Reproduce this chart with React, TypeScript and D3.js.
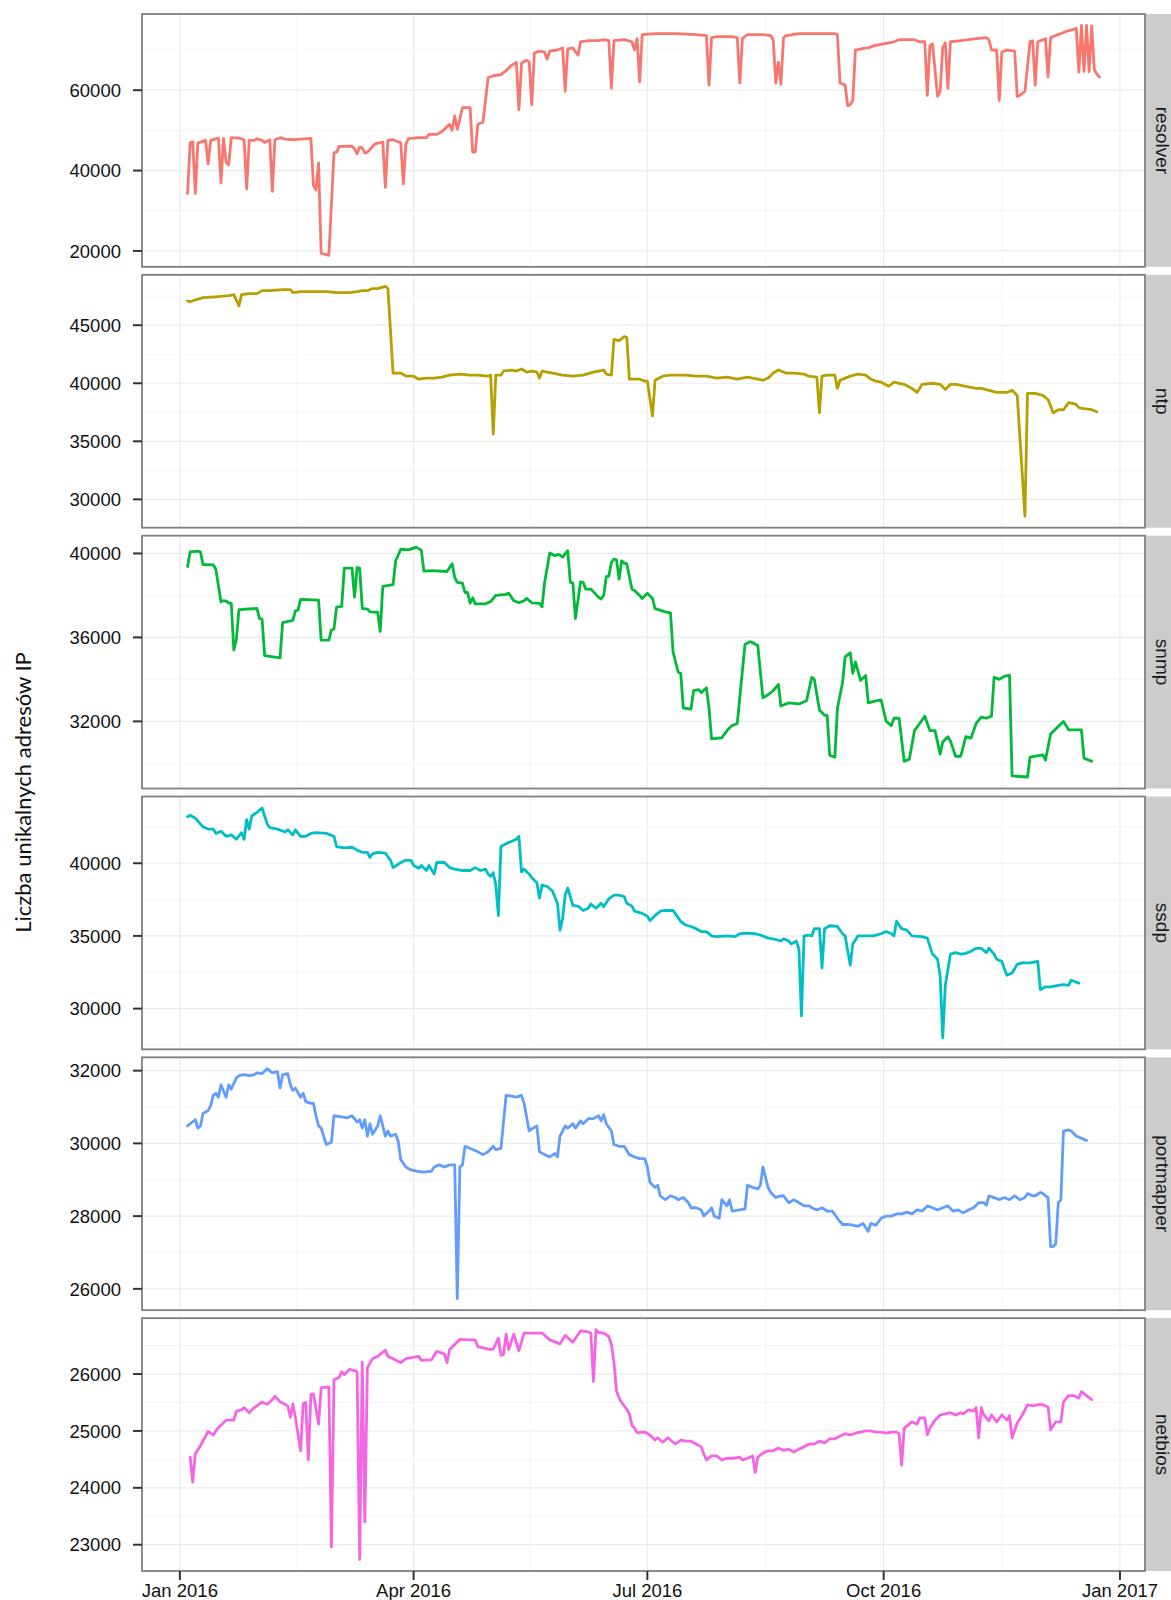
import * as d3 from 'd3';

// days counted from 2016-01-01, value = number of unique IPs
const resolver: [number, number][] = [
  [3, 34330], [4, 46900], [5, 47170], [6, 34330], [7, 46830], [10, 47500], [11, 41670], [12, 47500],
  [15, 48080], [16, 36920], [17, 48000], [18, 42080], [19, 41420], [20, 48170], [23, 48080], [25, 47670],
  [26, 35420], [27, 47500], [29, 47500], [30, 47920], [32, 47500], [33, 47000], [35, 47670], [36, 34830],
  [37, 47670], [39, 48170], [41, 47830], [45, 47670], [47, 47830], [51, 48000], [52, 36250], [53, 35170],
  [54, 41920], [55, 19420], [58, 18900], [60, 44420], [61, 44580], [62, 46000], [67, 46080], [68, 45420],
  [69, 44170], [70, 45830], [71, 45670], [72, 44330], [73, 44580], [76, 46670], [78, 46920], [79, 47080],
  [80, 35830], [81, 47500], [83, 47670], [86, 46920], [87, 36670], [88, 46670], [89, 47950], [93, 48200],
  [96, 48200], [97, 49000], [100, 49000], [102, 49740], [103, 50260], [105, 51540], [106, 50000], [107, 53600],
  [108, 50260], [110, 55640], [113, 55640], [114, 44620], [115, 44620], [116, 51540], [118, 52050], [120, 63080],
  [122, 63590], [125, 63850], [127, 64870], [129, 66150], [131, 66920], [132, 55130], [133, 66670], [134, 67180],
  [135, 67440], [136, 67000], [137, 56410], [138, 69230], [140, 69740], [142, 69490], [143, 67690], [144, 69740],
  [147, 70000], [149, 70510], [150, 59740], [151, 70260], [153, 70510], [155, 68720], [156, 72050], [159, 72310],
  [163, 72310], [165, 72560], [167, 72310], [168, 60510], [169, 72310], [173, 72560], [176, 72050], [177, 70000],
  [178, 72820], [179, 62050], [180, 73850], [185, 74100], [193, 74100], [201, 73850], [205, 73590], [206, 61280],
  [207, 73080], [209, 73330], [215, 73330], [217, 73080], [218, 61800], [219, 72820], [221, 73850], [227, 73850],
  [230, 73590], [231, 72500], [232, 61800], [233, 67000], [234, 61500], [235, 73000], [236, 73590], [241, 74100],
  [249, 74100], [255, 74100], [256, 73850], [257, 61800], [259, 61280], [260, 56150], [261, 56410], [262, 57440],
  [263, 70000], [267, 70510], [268, 70510], [270, 71030], [274, 71540], [278, 72050], [280, 72560], [286, 72560],
  [288, 72050], [290, 72050], [291, 58720], [292, 71030], [293, 71540], [295, 58460], [296, 59740], [297, 70510],
  [298, 71800], [299, 60510], [300, 72050], [304, 72310], [310, 72820], [314, 73080], [315, 72560], [316, 70000],
  [318, 70000], [319, 57440], [320, 69490], [322, 70000], [325, 69740], [326, 58460], [327, 58720], [329, 59740],
  [331, 72050], [332, 72310], [333, 61280], [334, 72050], [336, 72560], [337, 72820], [338, 63330], [339, 73080],
  [342, 73850], [345, 74620], [348, 75130], [349, 75380], [350, 64500], [351, 76100], [352, 64700], [353, 76100],
  [354, 64600], [355, 76000], [356, 65200], [357, 64000], [358, 63300],
];

const ntp: [number, number][] = [
  [3, 47100], [4, 47020], [6, 47190], [9, 47370], [14, 47450], [19, 47540], [21, 47630], [23, 46670],
  [24, 47630], [27, 47720], [30, 47720], [32, 47980], [35, 47980], [40, 48070], [43, 48070], [44, 47800],
  [47, 47890], [51, 47890], [57, 47890], [61, 47800], [66, 47800], [69, 47890], [71, 47980], [73, 47980],
  [75, 48160], [77, 48160], [80, 48350], [81, 48160], [83, 40880], [86, 40880], [88, 40610], [91, 40610],
  [93, 40350], [96, 40440], [99, 40440], [102, 40530], [105, 40700], [109, 40790], [113, 40700], [116, 40700],
  [120, 40610], [121, 40700], [122, 35620], [123, 40700], [125, 40700], [126, 41050], [129, 41140], [131, 41050],
  [133, 41230], [135, 40960], [137, 41050], [139, 40960], [140, 40440], [141, 41050], [145, 40880], [149, 40700],
  [153, 40610], [157, 40700], [161, 40960], [165, 41140], [166, 40790], [168, 40700], [169, 43770], [171, 43680],
  [173, 44030], [174, 43940], [175, 40350], [179, 40350], [181, 40180], [182, 40180], [184, 37190], [185, 40260],
  [188, 40610], [191, 40700], [197, 40700], [201, 40610], [205, 40610], [209, 40440], [213, 40530], [217, 40350],
  [221, 40530], [227, 40260], [229, 40440], [231, 40880], [233, 41140], [236, 40880], [239, 40880], [243, 40790],
  [245, 40610], [248, 40530], [249, 37460], [250, 40610], [252, 40700], [255, 40700], [256, 39560], [257, 40260],
  [261, 40610], [264, 40790], [267, 40700], [269, 40350], [271, 40180], [273, 40090], [276, 39740], [278, 40090],
  [280, 40000], [282, 39910], [285, 39560], [287, 39210], [289, 39910], [293, 40000], [296, 39910], [298, 39470],
  [300, 39910], [302, 39910], [306, 39740], [310, 39560], [312, 39560], [318, 39210], [322, 39210], [324, 39390],
  [326, 38950], [329, 28550], [330, 39120], [333, 39120], [336, 38950], [338, 38600], [340, 37460], [342, 37720],
  [344, 37720], [346, 38330], [348, 38250], [349, 38160], [350, 37900], [352, 37810], [355, 37720], [357, 37540],
];

const snmp: [number, number][] = [
  [3, 39380], [4, 40080], [7, 40110], [8, 40080], [9, 39475], [13, 39460], [14, 39250], [16, 37700],
  [17, 37750], [18, 37730], [19, 37640], [20, 37620], [21, 35410], [22, 35920], [23, 37320], [30, 37380],
  [31, 36900], [32, 36870], [33, 35130], [39, 35030], [40, 36710], [44, 36810], [45, 37270], [46, 37300],
  [47, 37810], [54, 37780], [55, 35870], [58, 35870], [59, 36360], [60, 36400], [61, 37440], [63, 37480],
  [64, 39300], [67, 39300], [68, 37920], [69, 39330], [70, 39300], [71, 37380], [73, 37350], [74, 37220],
  [77, 37200], [78, 36290], [79, 38430], [83, 38510], [84, 39650], [86, 40200], [89, 40170], [92, 40300],
  [94, 40160], [95, 39160], [98, 39180], [104, 39140], [106, 39510], [107, 38860], [108, 38620], [110, 38590],
  [111, 38140], [112, 38140], [113, 37630], [114, 37890], [115, 37600], [119, 37600], [121, 37710], [123, 38000],
  [127, 38050], [128, 38110], [130, 37750], [132, 37650], [134, 37750], [135, 37860], [137, 37650], [140, 37620],
  [141, 37460], [142, 38620], [144, 40020], [146, 39890], [147, 39950], [148, 39930], [149, 39820], [151, 40130],
  [152, 38620], [153, 38600], [154, 36900], [156, 38650], [157, 38620], [158, 38300], [160, 38300], [163, 37920],
  [164, 37830], [165, 38000], [166, 38900], [167, 38920], [168, 39570], [169, 39730], [170, 39700], [171, 38780],
  [172, 39650], [173, 39540], [174, 39500], [176, 38300], [177, 38240], [179, 38000], [180, 37850], [182, 38100],
  [184, 37850], [185, 37370], [189, 37220], [191, 37170], [192, 35320], [194, 34340], [195, 34290], [196, 32630],
  [199, 32590], [200, 33460], [202, 33510], [203, 33370], [205, 33600], [206, 32630], [207, 31170], [211, 31220],
  [213, 31560], [215, 31800], [217, 31900], [220, 35660], [222, 35800], [225, 35610], [227, 33120], [229, 33270],
  [231, 33460], [233, 33760], [234, 32730], [237, 32880], [241, 32830], [244, 32980], [246, 34100], [247, 34000],
  [249, 32540], [251, 32290], [252, 32290], [253, 30390], [255, 30290], [256, 32630], [258, 33850], [259, 35070],
  [261, 35270], [262, 34290], [263, 34830], [265, 33950], [267, 34190], [268, 32880], [271, 32980], [273, 33020],
  [275, 32000], [277, 31800], [278, 32150], [280, 32150], [282, 30100], [284, 30200], [286, 31560], [288, 31900],
  [290, 32240], [292, 31560], [294, 31560], [296, 30440], [297, 31020], [299, 31270], [300, 31070], [302, 30340],
  [304, 30340], [306, 31270], [308, 31200], [310, 31900], [312, 32200], [314, 32150], [316, 32250], [317, 34100],
  [319, 34000], [321, 34150], [323, 34200], [324, 29400], [330, 29350], [331, 30300], [336, 30400], [337, 30150],
  [339, 31400], [344, 32000], [346, 31600], [351, 31600], [352, 30250], [355, 30100],
];

const ssdp: [number, number][] = [
  [3, 43200], [4, 43300], [6, 43100], [8, 42700], [9, 42500], [11, 42350], [13, 42350], [14, 42050],
  [16, 42200], [18, 41850], [20, 41950], [22, 41650], [24, 42100], [25, 41650], [26, 43000], [27, 42350],
  [28, 43250], [30, 43500], [32, 43800], [34, 42700], [35, 42450], [38, 42350], [41, 42150], [42, 42300],
  [44, 41950], [45, 42300], [47, 41850], [49, 41850], [51, 42050], [53, 42100], [57, 42050], [60, 41850],
  [61, 41150], [64, 41050], [67, 41100], [69, 40900], [71, 40750], [73, 40750], [74, 40400], [75, 40650],
  [77, 40750], [80, 40700], [82, 40200], [83, 39700], [86, 40050], [88, 40200], [90, 40200], [91, 39850],
  [93, 39650], [94, 39850], [96, 39500], [97, 39850], [99, 39250], [100, 40050], [103, 40050], [105, 39700],
  [107, 39600], [110, 39500], [113, 39500], [115, 39700], [117, 39500], [119, 39600], [120, 39250], [121, 39100],
  [122, 39350], [123, 38500], [124, 36400], [125, 41150], [127, 41350], [129, 41500], [131, 41650], [132, 41850],
  [133, 39400], [134, 39600], [136, 39250], [137, 39000], [139, 38650], [140, 37600], [141, 38500], [143, 38400],
  [145, 38100], [147, 37250], [148, 35400], [149, 36200], [150, 37800], [151, 38300], [153, 37100], [155, 37050],
  [157, 36750], [159, 36900], [160, 37200], [162, 36900], [164, 37250], [165, 37000], [167, 37550], [169, 37800],
  [171, 37800], [173, 37700], [174, 37250], [176, 37050], [177, 36700], [180, 36550], [182, 36350], [183, 36050],
  [185, 36400], [187, 36700], [189, 36750], [192, 36750], [193, 36500], [195, 36000], [197, 35750], [199, 35650],
  [201, 35500], [203, 35300], [205, 35300], [207, 35000], [209, 34950], [213, 35000], [216, 34950], [218, 35150],
  [221, 35200], [224, 35150], [227, 35000], [229, 34850], [231, 34800], [234, 34650], [235, 34800], [237, 34650],
  [238, 34450], [240, 34650], [241, 34100], [242, 29500], [243, 35000], [245, 35050], [246, 35000], [247, 35500],
  [249, 35500], [250, 32800], [251, 35500], [253, 35700], [256, 35650], [258, 35150], [259, 35000], [261, 33000],
  [262, 34450], [264, 35000], [267, 35000], [270, 35000], [273, 35150], [275, 35300], [277, 35150], [278, 35000],
  [279, 36000], [281, 35500], [283, 35400], [285, 35000], [289, 34950], [291, 34850], [293, 33750], [295, 33400],
  [296, 32200], [297, 27990], [298, 31600], [300, 33750], [302, 33850], [304, 33750], [306, 33800], [308, 33950],
  [310, 34150], [312, 34150], [314, 33850], [315, 34150], [317, 33750], [318, 33400], [320, 33250], [321, 32750],
  [322, 32300], [324, 32450], [326, 33050], [328, 33150], [331, 33150], [334, 33250], [335, 31300], [337, 31500],
  [339, 31500], [342, 31600], [344, 31650], [346, 31600], [347, 31950], [350, 31750],
];

const portmapper: [number, number][] = [
  [3, 30480], [4, 30540], [6, 30650], [7, 30420], [8, 30480], [9, 30820], [11, 30900], [12, 31040],
  [13, 31320], [14, 31380], [15, 31270], [16, 31610], [18, 31270], [19, 31610], [20, 31490], [22, 31800],
  [23, 31860], [25, 31890], [27, 31860], [29, 31890], [30, 31940], [32, 31920], [34, 32050], [36, 31940],
  [38, 31970], [39, 31520], [40, 31890], [42, 31920], [43, 31610], [44, 31460], [45, 31520], [47, 31270],
  [48, 31380], [49, 31150], [51, 31100], [52, 31100], [53, 30760], [54, 30480], [55, 30420], [57, 29970],
  [59, 30030], [60, 30760], [63, 30730], [65, 30700], [67, 30760], [69, 30590], [70, 30650], [71, 30420],
  [72, 30650], [73, 30200], [74, 30540], [75, 30250], [77, 30480], [78, 30760], [80, 30200], [81, 30340],
  [82, 30200], [84, 30250], [85, 30060], [86, 29550], [88, 29350], [90, 29270], [92, 29240], [95, 29210],
  [98, 29240], [99, 29350], [101, 29410], [103, 29350], [105, 29410], [107, 29410], [108, 25730], [109, 29350],
  [110, 29410], [111, 29920], [114, 29830], [116, 29770], [118, 29690], [120, 29770], [122, 29920], [123, 29830],
  [125, 29860], [127, 31320], [129, 31300], [131, 31270], [133, 31320], [134, 31100], [136, 30340], [137, 30400],
  [139, 30480], [140, 29770], [142, 29690], [144, 29630], [146, 29720], [147, 29630], [148, 30200], [150, 30480],
  [151, 30420], [153, 30540], [154, 30420], [156, 30620], [157, 30540], [159, 30680], [161, 30680], [163, 30760],
  [164, 30620], [165, 30790], [166, 30540], [168, 30340], [169, 29970], [171, 29920], [173, 29920], [175, 29690],
  [177, 29630], [179, 29580], [181, 29580], [182, 29350], [183, 28930], [185, 28790], [186, 28850], [187, 28560],
  [189, 28450], [191, 28560], [193, 28510], [194, 28450], [196, 28510], [198, 28370], [199, 28230], [201, 28230],
  [203, 28170], [204, 28000], [206, 28140], [207, 28230], [208, 28000], [210, 27940], [211, 28450], [213, 28280],
  [214, 28450], [215, 28140], [218, 28170], [220, 28200], [221, 28850], [223, 28790], [225, 28750], [226, 28850],
  [227, 29350], [229, 28790], [230, 28650], [232, 28510], [233, 28540], [235, 28560], [237, 28370], [239, 28450],
  [241, 28370], [243, 28280], [245, 28280], [246, 28230], [248, 28170], [250, 28230], [252, 28140], [254, 28140],
  [256, 27940], [258, 27770], [260, 27770], [262, 27750], [264, 27720], [266, 27800], [268, 27580], [269, 27800],
  [271, 27750], [273, 27940], [275, 28000], [277, 28000], [279, 28060], [281, 28060], [283, 28110], [285, 28060],
  [287, 28170], [289, 28140], [291, 28280], [293, 28230], [295, 28170], [297, 28230], [299, 28280], [301, 28140],
  [303, 28170], [305, 28090], [307, 28170], [309, 28230], [311, 28370], [313, 28370], [314, 28300], [315, 28560],
  [317, 28510], [319, 28450], [321, 28510], [323, 28450], [325, 28560], [327, 28450], [329, 28510], [330, 28620],
  [332, 28560], [333, 28560], [335, 28650], [336, 28620], [337, 28560], [338, 28510], [339, 27160], [340, 27160],
  [341, 27240], [342, 28370], [343, 28450], [344, 30340], [346, 30370], [347, 30340], [349, 30200], [351, 30140],
  [352, 30110], [353, 30080],
];

const netbios: [number, number][] = [
  [4, 24540], [5, 24100], [6, 24600], [8, 24740], [10, 24910], [11, 24990], [13, 24930], [15, 25060],
  [16, 25100], [18, 25190], [21, 25190], [22, 25350], [24, 25370], [25, 25410], [27, 25320], [29, 25410],
  [30, 25440], [32, 25510], [34, 25470], [36, 25550], [37, 25610], [39, 25510], [40, 25490], [42, 25440],
  [43, 25240], [44, 25470], [45, 25230], [47, 24650], [48, 25480], [49, 25500], [50, 24490], [51, 25640],
  [52, 25650], [54, 25120], [55, 25760], [58, 25770], [59, 22960], [60, 25900], [62, 25940], [63, 26040],
  [64, 25990], [66, 26080], [68, 26060], [69, 26040], [70, 22740], [71, 26210], [72, 23400], [73, 26110],
  [75, 26270], [77, 26310], [80, 26420], [81, 26310], [83, 26270], [86, 26200], [88, 26270], [93, 26310],
  [94, 26240], [98, 26250], [100, 26400], [103, 26350], [104, 26200], [105, 26430], [107, 26520], [109, 26610],
  [112, 26600], [115, 26600], [116, 26480], [121, 26430], [122, 26440], [124, 26630], [125, 26330], [126, 26340],
  [127, 26700], [128, 26430], [130, 26700], [132, 26410], [134, 26720], [141, 26720], [144, 26600], [148, 26530],
  [150, 26680], [153, 26560], [156, 26760], [159, 26740], [160, 26720], [161, 25870], [162, 26780], [163, 26730],
  [165, 26720], [167, 26660], [168, 26520], [169, 26200], [170, 25700], [171, 25580], [172, 25500], [174, 25380],
  [175, 25300], [176, 25100], [177, 25050], [178, 24970], [181, 24980], [183, 24930], [185, 24840], [186, 24880],
  [188, 24800], [190, 24880], [191, 24840], [193, 24770], [195, 24840], [197, 24820], [199, 24820], [201, 24770],
  [203, 24720], [204, 24590], [205, 24490], [207, 24560], [209, 24560], [211, 24490], [213, 24520], [216, 24520],
  [218, 24540], [219, 24490], [221, 24520], [223, 24560], [224, 24270], [225, 24540], [227, 24610], [229, 24650],
  [231, 24650], [233, 24700], [235, 24660], [237, 24680], [239, 24630], [241, 24680], [243, 24720], [245, 24770],
  [247, 24770], [249, 24820], [251, 24790], [253, 24860], [255, 24860], [257, 24910], [259, 24950], [261, 24930],
  [263, 24960], [265, 24980], [267, 25000], [269, 25000], [271, 24980], [273, 24980], [275, 24960], [277, 24980],
  [279, 24980], [280, 24950], [281, 24400], [282, 25050], [284, 25120], [285, 25160], [287, 25120], [288, 25230],
  [290, 25230], [291, 24930], [292, 25050], [294, 25190], [296, 25280], [298, 25300], [300, 25320], [302, 25280],
  [304, 25320], [305, 25300], [307, 25370], [309, 25350], [310, 25410], [311, 24880], [312, 25410], [313, 25280],
  [315, 25180], [316, 25280], [318, 25160], [320, 25280], [322, 25190], [323, 25270], [324, 24880], [326, 25140],
  [328, 25280], [330, 25460], [332, 25440], [334, 25460], [336, 25460], [338, 25420], [339, 25020], [341, 25160],
  [343, 25160], [344, 25510], [346, 25620], [348, 25620], [350, 25580], [351, 25690], [353, 25620], [355, 25550],
];

const panelNames = ['resolver', 'ntp', 'snmp', 'ssdp', 'portmapper', 'netbios'];
const seriesList = [resolver, ntp, snmp, ssdp, portmapper, netbios];
const colors = ['#F8766D', '#B79F00', '#00BA38', '#00BFC4', '#619CFF', '#F564E3'];
const yTicks = [
  [20000, 40000, 60000],
  [30000, 35000, 40000, 45000],
  [32000, 36000, 40000],
  [30000, 35000, 40000],
  [26000, 28000, 30000, 32000],
  [23000, 24000, 25000, 26000],
];
const xTickDays = [0, 91, 182, 274, 366];
const xTickLabels = ['Jan 2016', 'Apr 2016', 'Jul 2016', 'Oct 2016', 'Jan 2017'];
const yTitle = 'Liczba unikalnych adresów IP';

const start = new Date(2016, 0, 1);
const toDate = (d: number) => new Date(start.getTime() + d * 86400000);

const W = 1171;
const H = 1600;
const left = 142;
const right = 1145;
const top = 14;
const bottom = 1571;
const gap = 8;
const panelH = (bottom - top - gap * 5) / 6;
const stripW = 34;
const tickFont = '"Liberation Sans", Arial, Helvetica, sans-serif';

export default function App() {
  const allDays = seriesList.flatMap((s) => s.map((p) => p[0]));
  const [d0, d1] = d3.extent(allDays) as [number, number];
  const xPad = (d1 - d0) * 0.05;
  const x = d3
    .scaleTime()
    .domain([toDate(d0 - xPad), toDate(d1 + xPad)])
    .range([left, right]);

  const xMajor = xTickDays.map(toDate);
  const xMinor = xTickDays.slice(1).map((d, i) => toDate((d + xTickDays[i]) / 2));

  return (
    <svg
      width={W}
      height={H}
      style={{ position: 'absolute', left: 0, top: 0, background: '#fff' }}
    >
      {seriesList.map((series, i) => {
        const y0 = top + i * (panelH + gap);
        const y1 = y0 + panelH;
        const [v0, v1] = d3.extent(series, (p) => p[1]) as [number, number];
        const yPad = (v1 - v0) * 0.05;
        const y = d3.scaleLinear().domain([v0 - yPad, v1 + yPad]).range([y1, y0]);
        const ticks = yTicks[i];
        const step = ticks[1] - ticks[0];
        const yMinor = [...ticks.map((t) => t - step / 2), ticks[ticks.length - 1] + step / 2].filter(
          (v) => v > y.domain()[0] && v < y.domain()[1]
        );
        const line = d3
          .line<[number, number]>()
          .x((p) => x(toDate(p[0])))
          .y((p) => y(p[1]));
        return (
          <g key={panelNames[i]}>
            <rect x={left} y={y0} width={right - left} height={panelH} fill="#fff" />
            {yMinor.map((v) => (
              <line key={'ym' + v} x1={left} x2={right} y1={y(v)} y2={y(v)} stroke="#f5f5f5" strokeWidth={1} />
            ))}
            {xMinor.map((d) => (
              <line key={'xm' + d.getTime()} x1={x(d)} x2={x(d)} y1={y0} y2={y1} stroke="#f5f5f5" strokeWidth={1} />
            ))}
            {ticks.map((v) => (
              <line key={'yg' + v} x1={left} x2={right} y1={y(v)} y2={y(v)} stroke="#ebebeb" strokeWidth={1.2} />
            ))}
            {xMajor.map((d) => (
              <line key={'xg' + d.getTime()} x1={x(d)} x2={x(d)} y1={y0} y2={y1} stroke="#ebebeb" strokeWidth={1.2} />
            ))}
            <path
              d={line(series) || ''}
              fill="none"
              stroke={colors[i]}
              strokeWidth={2.8}
              strokeLinejoin="round"
              strokeLinecap="round"
            />
            <rect
              x={left}
              y={y0}
              width={right - left}
              height={panelH}
              fill="none"
              stroke="#7f7f7f"
              strokeWidth={1.8}
            />
            <rect x={right + 1} y={y0} width={stripW} height={panelH} fill="#cccccc" />
            <text
              transform={`translate(${right + 17},${(y0 + y1) / 2}) rotate(90)`}
              textAnchor="middle"
              dominantBaseline="central"
              fontFamily={tickFont}
              fontSize={19}
              fill="#1a1a1a"
            >
              {panelNames[i]}
            </text>
            {ticks.map((v) => (
              <g key={'yt' + v}>
                <line x1={left - 9} x2={left} y1={y(v)} y2={y(v)} stroke="#333" strokeWidth={2} />
                <text
                  x={left - 21}
                  y={y(v)}
                  dy="0.36em"
                  textAnchor="end"
                  fontFamily={tickFont}
                  fontSize={18.5}
                  fill="#111"
                >
                  {v}
                </text>
              </g>
            ))}
          </g>
        );
      })}
      {xMajor.map((d, i) => (
        <g key={'xt' + i}>
          <line x1={x(d)} x2={x(d)} y1={bottom} y2={bottom + 9} stroke="#333" strokeWidth={2} />
          <text
            x={x(d)}
            y={bottom + 26}
            textAnchor="middle"
            fontFamily={tickFont}
            fontSize={18.5}
            fill="#111"
          >
            {xTickLabels[i]}
          </text>
        </g>
      ))}
      <text
        transform={`translate(22,${(top + bottom) / 2}) rotate(-90)`}
        textAnchor="middle"
        dominantBaseline="central"
        fontFamily='"URW Gothic", "Century Gothic", Lato, "Open Sans", sans-serif'
        fontSize={22}
        fill="#111"
      >
        {yTitle}
      </text>
    </svg>
  );
}
